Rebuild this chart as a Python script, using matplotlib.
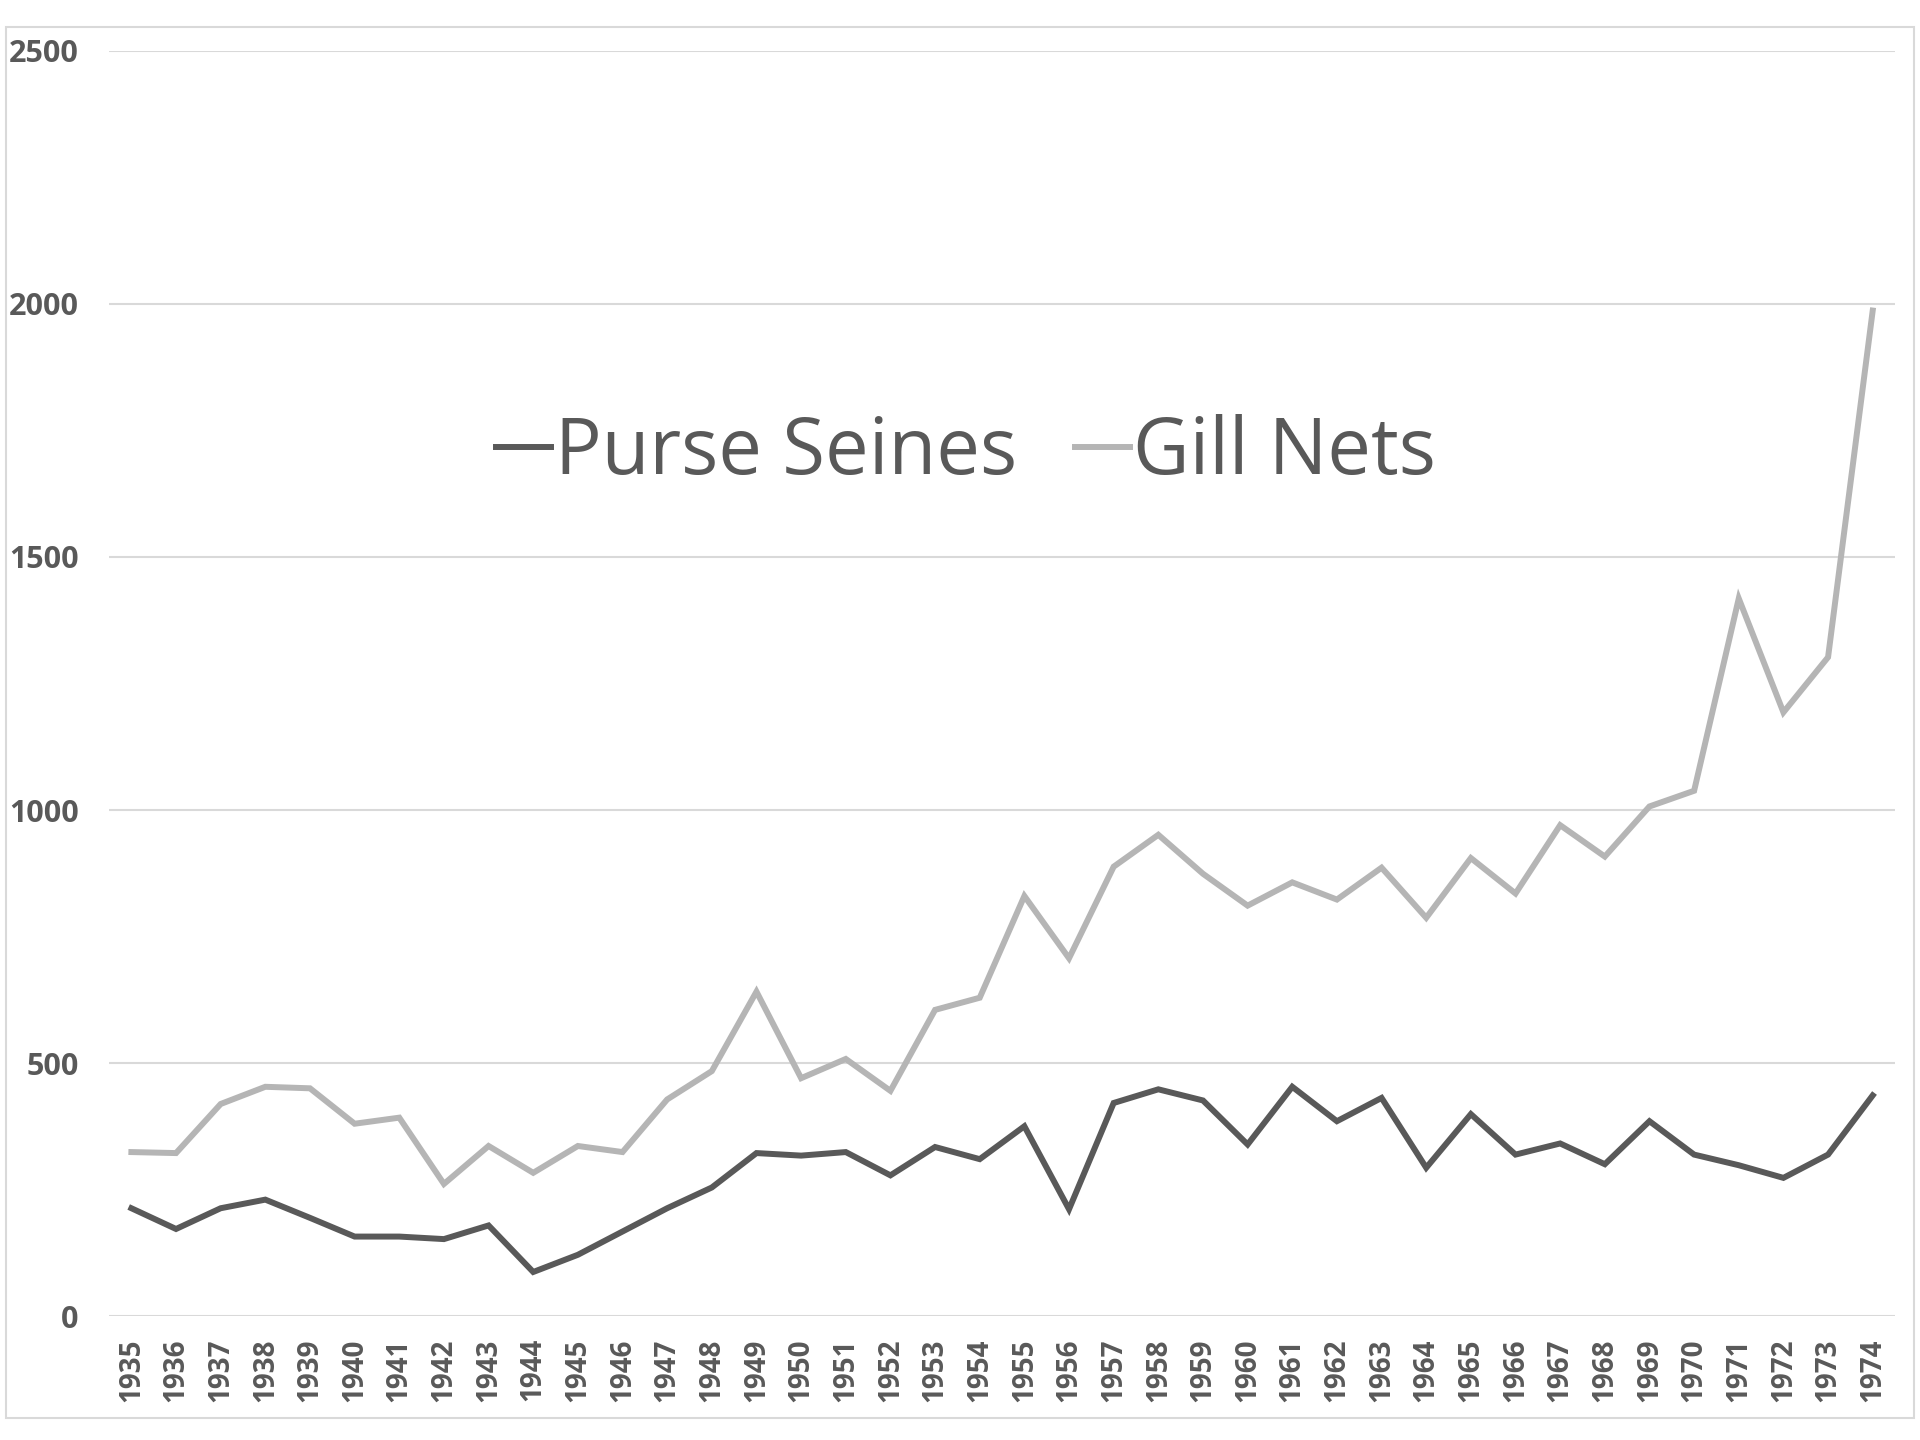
import matplotlib
matplotlib.use("Agg")
import matplotlib.pyplot as plt
from matplotlib.patches import Rectangle

years = list(range(1935, 1975))

purse_seines = [213, 172, 213, 230, 194, 157, 157, 152, 179, 87,
                121, 167, 213, 254, 322, 317, 324, 278, 334, 310,
                375, 211, 421, 448, 426, 339, 453, 385, 431, 293,
                399, 319, 341, 300, 385, 319, 298, 273, 319, 436]

gill_nets = [324, 322, 419, 453, 450, 380, 392, 261, 336, 283,
             336, 324, 428, 484, 641, 470, 508, 445, 605, 629,
             830, 707, 888, 951, 874, 811, 857, 823, 886, 787,
             905, 835, 970, 908, 1007, 1038, 1418, 1193, 1302, 1987]

y_ticks = [0, 500, 1000, 1500, 2000, 2500]

text_color = "#595959"
grid_color = "#d9d9d9"

plt.rcParams['font.family'] = ['Open Sans', 'DejaVu Sans']

fig = plt.figure(figsize=(19.2, 14.4), dpi=100)
ax = fig.add_axes([0.0568, 0.0861, 0.9302, 0.8785])

# outer chart border
fig.patches.append(Rectangle((0.003, 0.0153), 0.994, 0.966, transform=fig.transFigure,
                             fill=False, edgecolor=grid_color, linewidth=1.5))

x = list(range(len(years)))
ax.plot(x, purse_seines, color="#595959", linewidth=4.3, label="Purse Seines",
        solid_joinstyle="miter")
ax.plot(x, gill_nets, color="#b5b5b5", linewidth=4.3, label="Gill Nets",
        solid_joinstyle="miter")

ax.set_xlim(-0.5, len(years) - 0.5)
ax.set_ylim(0, 2500)
ax.set_yticks(y_ticks)
ax.set_yticklabels([str(v) for v in y_ticks], fontsize=22, fontweight="bold", color=text_color)
ax.set_xticks(x)
ax.set_xticklabels([str(y) for y in years], rotation=90, fontsize=20, color=text_color,
                   fontweight="bold")

ax.grid(axis="y", color=grid_color, linewidth=1.5)
ax.set_axisbelow(True)
for s in ax.spines.values():
    s.set_visible(False)
ax.tick_params(axis="both", length=0)
ax.tick_params(axis="y", pad=22)
ax.tick_params(axis="x", pad=16)

leg = ax.legend(loc="center", bbox_to_anchor=(0.48, 0.682), ncol=2, frameon=False,
                fontsize=56, handlelength=0.7, handletextpad=0.05, columnspacing=0.75)
for t in leg.get_texts():
    t.set_color(text_color)

fig.savefig("out.png", dpi=100)
